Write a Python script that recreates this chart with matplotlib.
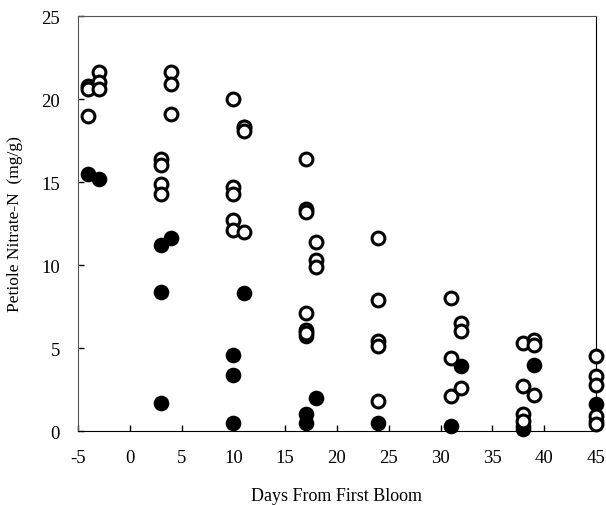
import matplotlib.pyplot as plt

# open circles (day, value)
open_days = [-4, -4, -4, -3, -3, -3,
             3, 3, 3, 3, 4, 4, 4,
             10, 10, 10, 10, 10, 11, 11, 11,
             17, 17, 17, 17, 17, 17, 18, 18, 18,
             24, 24, 24, 24, 24,
             31, 31, 31, 32, 32, 32,
             38, 38, 38, 38, 39, 39, 39,
             45, 45, 45, 45, 45]
open_vals = [20.8, 20.6, 19.0, 21.6, 21.0, 20.6,
             16.4, 16.0, 14.9, 14.3, 21.6, 20.9, 19.1,
             20.0, 14.7, 14.3, 12.7, 12.1, 18.3, 18.1, 12.0,
             16.4, 13.4, 13.2, 7.1, 6.1, 5.9, 11.4, 10.3, 9.9,
             11.6, 7.9, 5.4, 5.1, 1.8,
             8.0, 4.4, 2.1, 6.5, 6.0, 2.6,
             5.3, 2.7, 1.0, 0.6, 5.5, 5.2, 2.2,
             4.5, 3.3, 2.8, 0.9, 0.4]

# filled circles (day, value)
filled_days = [-4, -3, 3, 3, 3, 4, 10, 10, 10, 11, 11,
               17, 17, 17, 18, 24, 31, 32, 38, 38, 39, 45, 45]
filled_vals = [15.5, 15.2, 11.2, 8.4, 1.7, 11.6, 4.6, 3.4, 0.5, 18.3, 8.3,
               5.7, 1.0, 0.5, 2.0, 0.5, 0.3, 3.9, 0.3, 0.1, 4.0, 1.6, 0.6]

xticks = [-5, 0, 5, 10, 15, 20, 25, 30, 35, 40, 45]
yticks = [0, 5, 10, 15, 20, 25]

plt.rcParams['font.family'] = ['Liberation Serif', 'DejaVu Serif']
plt.rcParams['axes.unicode_minus'] = False

fig = plt.figure(figsize=(6.06, 5.06), dpi=100)
ax = fig.add_axes([0.1287, 0.1462, 0.8548, 0.8202])

ax.scatter(filled_days, filled_vals, s=95, c='black', edgecolors='black',
           linewidths=1.5, zorder=3, clip_on=False)
ax.scatter(open_days, open_vals, s=85, facecolors='white', edgecolors='black',
           linewidths=2.2, zorder=4, clip_on=False)

ax.set_xlim(-5, 45)
ax.set_ylim(0, 25)
ax.set_xticks(xticks)
ax.set_yticks(yticks)
ax.tick_params(axis='x', direction='in', length=4, width=1, labelsize=13.5, pad=13)
ax.tick_params(axis='y', direction='in', length=4, width=1, labelsize=13.5, pad=13)

for side in ['left', 'top']:
    ax.spines[side].set_color('#555555')
for side in ['bottom', 'right']:
    ax.spines[side].set_color('black')

ax.set_xlabel('Days From First Bloom', fontsize=13, labelpad=15)
ax.set_ylabel('Petiole Nitrate-N  (mg/g)', fontsize=12.5, labelpad=13)

fig.savefig('out.png', dpi=100)
